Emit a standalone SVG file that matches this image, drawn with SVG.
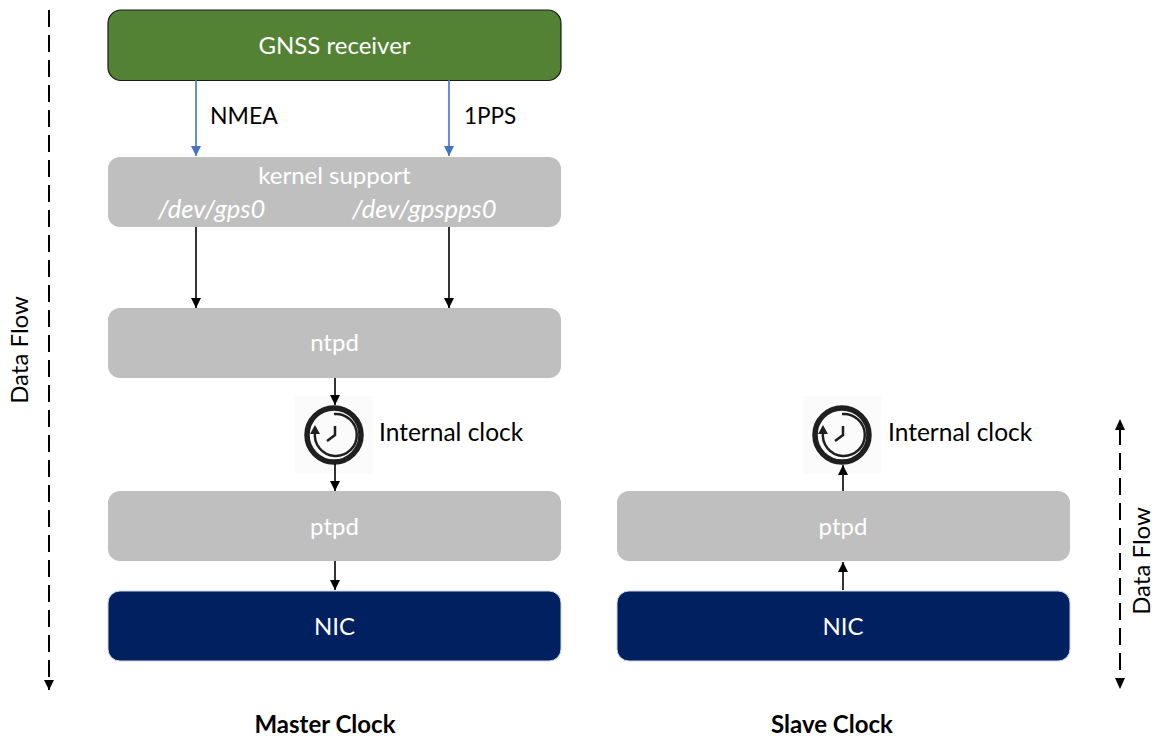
<svg xmlns="http://www.w3.org/2000/svg" width="1154" height="737" viewBox="0 0 1154 737">
<style>
text{font-family:"Lato","Open Sans",sans-serif;font-size:24px;fill:#000}
.c{text-anchor:middle}
.w{fill:#fff}
.b{font-weight:700}
.i{font-style:italic;font-size:25.600px}
.ic{font-size:24.500px}
.grey{fill:#bfbfbf}
.navy{fill:#002060;stroke:#c9d3e6;stroke-width:1}
.k{stroke:#000;stroke-width:1.6;fill:none}
.bl{stroke:#4472c4;stroke-width:1.6;fill:none}
.d{stroke:#000;stroke-width:2;fill:none;stroke-dasharray:17 8}
.ring{fill:none;stroke:#1f1f1f}
</style>
<defs>
<marker id="ak" markerUnits="userSpaceOnUse" markerWidth="12" markerHeight="12" refX="10" refY="5" orient="auto"><path d="M0 0L10 5L0 10Z" fill="#000"/></marker>
<marker id="ab" markerUnits="userSpaceOnUse" markerWidth="12" markerHeight="12" refX="10" refY="5" orient="auto"><path d="M0 0L10 5L0 10Z" fill="#4472c4"/></marker>
<g id="clk">
<rect x="-39" y="-39" width="78" height="78" fill="#fbfbfb"/>
<circle r="27" class="ring" stroke-width="5.500"/>
<path d="M0 -21A21 21 0 1 1 -19 -3" class="ring" stroke-width="2.500"/>
<path d="M-24 -1L-14 -1L-19 -10Z" fill="#1f1f1f"/>
<path d="M1 -9L1 0L-7 6" class="ring" stroke-width="2.500"/>
</g>
</defs>
<g id="gnss"><rect x="108" y="10" width="453" height="70.500" rx="13" fill="#548235" stroke="#1a1a1a" stroke-width="1.200"/><text class="c w" x="334.500" y="54">GNSS receiver</text></g>
<g id="kernel"><rect class="grey" x="108" y="157" width="453" height="70" rx="12"/><text class="c w" x="334.500" y="184">kernel support</text><text class="w i" x="158" y="218">/dev/gps0</text><text class="w i" x="352" y="218">/dev/gpspps0</text></g>
<g id="ntpd"><rect class="grey" x="108" y="308" width="453" height="70" rx="12"/><text class="c w" x="334.500" y="351">ntpd</text></g>
<g id="ptpd-master"><rect class="grey" x="108" y="491" width="453" height="70" rx="12"/><text class="c w" x="334.500" y="535">ptpd</text></g>
<g id="nic-master"><rect class="navy" x="108" y="591" width="453" height="70" rx="12"/><text class="c w" x="334.500" y="635">NIC</text></g>
<g id="ptpd-slave"><rect class="grey" x="617" y="491" width="453" height="70" rx="12"/><text class="c w" x="843" y="535">ptpd</text></g>
<g id="nic-slave"><rect class="navy" x="617" y="591" width="453" height="70" rx="12"/><text class="c w" x="843" y="635">NIC</text></g>
<g id="clock-master"><use href="#clk" x="334" y="435"/><text class="ic" x="379" y="441">Internal clock</text></g>
<g id="clock-slave"><use href="#clk" x="842" y="435"/><text class="ic" x="888" y="441">Internal clock</text></g>
<g id="connectors">
<path class="bl" d="M196 80V156" marker-end="url(#ab)"/>
<path class="bl" d="M449 80V156" marker-end="url(#ab)"/>
<path class="k" d="M196 227V308" marker-end="url(#ak)"/>
<path class="k" d="M449 227V308" marker-end="url(#ak)"/>
<path class="k" d="M335 378V405" marker-end="url(#ak)"/>
<path class="k" d="M335 464V491" marker-end="url(#ak)"/>
<path class="k" d="M335 561V590" marker-end="url(#ak)"/>
<path class="k" d="M843 590V562" marker-end="url(#ak)"/>
<path class="k" d="M843 491V465" marker-end="url(#ak)"/>
<path class="d" d="M49 10V690" marker-end="url(#ak)"/>
<path class="d" d="M1120 428V680"/>
<path d="M1115 430L1120 419L1125 430Z" fill="#000"/>
<path d="M1115 678L1120 689L1125 678Z" fill="#000"/>
</g>
<text x="210" y="124" font-size="23" style="font-size:23px">NMEA</text>
<text x="464" y="124" style="font-size:22.500px">1PPS</text>
<text transform="translate(28 350) rotate(-90)" class="c">Data Flow</text>
<text transform="translate(1150 561) rotate(-90)" class="c">Data Flow</text>
<text class="c b" x="325" y="733">Master Clock</text>
<text class="c b" x="832" y="733">Slave Clock</text>
</svg>
